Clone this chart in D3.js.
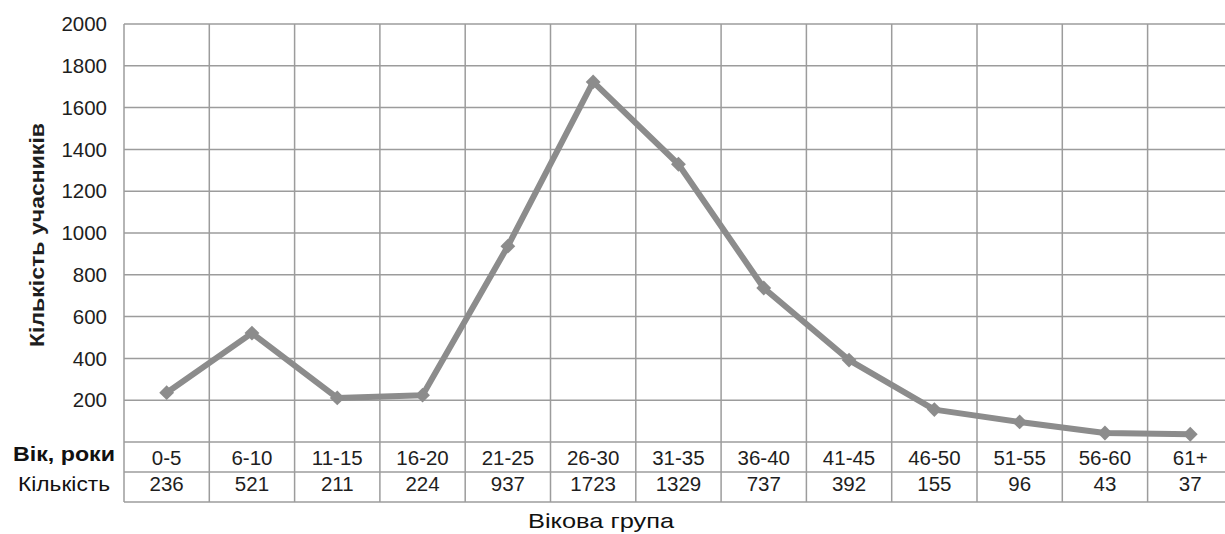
<!DOCTYPE html>
<html><head><meta charset="utf-8">
<script src="https://cdn.jsdelivr.net/npm/d3@7"></script>
<style>body{margin:0;background:#fff;}svg{display:block;font-family:"Liberation Sans",Arial,sans-serif;}</style>
</head><body>
<svg id="c" width="1225" height="534"></svg>
<script>
const categories = ["0-5","6-10","11-15","16-20","21-25","26-30","31-35","36-40","41-45","46-50","51-55","56-60","61+"];
const counts = [236,521,211,224,937,1723,1329,737,392,155,96,43,37];
const yTicks = [200,400,600,800,1000,1200,1400,1600,1800,2000];
const rowLabels = ["Вік, роки","Кількість"];

(function(){
const svg = d3.select("#c");
const pLeft = 124, colW = 85.3, pTop = 24, pBottom = 442;
const x = d3.scaleBand().domain(categories).range([pLeft, pLeft + colW*categories.length]);
const y = d3.scaleLinear().domain([0,2000]).range([pBottom, pTop]);
const rowH = 30;
const gridC = "#9c9c9c";
const txtC = "#1e1e1e";

svg.append("g").selectAll("line").data(yTicks).join("line")
  .attr("x1", pLeft).attr("x2", x.range()[1]).attr("y1", d=>y(d)).attr("y2", d=>y(d))
  .attr("stroke", gridC).attr("stroke-width", 1.5);
[0,1,2].forEach(i=>{
  svg.append("line").attr("x1", pLeft).attr("x2", x.range()[1])
    .attr("y1", pBottom + i*rowH).attr("y2", pBottom + i*rowH)
    .attr("stroke", gridC).attr("stroke-width", 1.5);
});
const vx = categories.map(c=>x(c)).concat([x.range()[1]]);
svg.append("g").selectAll("line").data(vx).join("line")
  .attr("x1", d=>d).attr("x2", d=>d).attr("y1", pTop).attr("y2", pBottom + 2*rowH)
  .attr("stroke", gridC).attr("stroke-width", 1.5);

svg.append("g").selectAll("text").data(yTicks).join("text")
  .attr("x", 107).attr("y", d=>y(d)).attr("dy","0.35em").attr("text-anchor","end")
  .attr("font-size", 20.5).attr("fill",txtC).text(d=>d);

svg.append("text").attr("transform","translate(44,235) rotate(-90)")
  .attr("text-anchor","middle").attr("font-size",21).attr("font-weight","bold").attr("fill",txtC)
  .attr("textLength",224).attr("lengthAdjust","spacingAndGlyphs")
  .text("Кількість учасників");

const line = d3.line().x((d,i)=>x(categories[i])+x.bandwidth()/2).y(d=>y(d));
svg.append("path").datum(counts).attr("d", line).attr("fill","none")
  .attr("stroke","#8c8c8c").attr("stroke-width",6).attr("stroke-linejoin","round");
svg.append("g").selectAll("path").data(counts).join("path")
  .attr("d", d3.symbol(d3.symbolDiamond2 || d3.symbolDiamond, 140))
  .attr("transform",(d,i)=>`translate(${x(categories[i])+x.bandwidth()/2},${y(d)})`)
  .attr("fill","#8c8c8c");

svg.append("g").selectAll("text").data(categories).join("text")
  .attr("x", d=>x(d)+x.bandwidth()/2).attr("y", 457.5).attr("dy","0.35em")
  .attr("text-anchor","middle").attr("font-size",20.5).attr("fill",txtC).text(d=>d);
svg.append("g").selectAll("text").data(counts).join("text")
  .attr("x", (d,i)=>x(categories[i])+x.bandwidth()/2).attr("y", 484).attr("dy","0.35em")
  .attr("text-anchor","middle").attr("font-size",20.5).attr("fill",txtC).text(d=>d);
svg.append("text").attr("x",13).attr("y", 454).attr("dy","0.35em")
  .attr("font-size",21).attr("font-weight","bold").attr("fill","#111")
  .attr("textLength",102).attr("lengthAdjust","spacingAndGlyphs").text(rowLabels[0]);
svg.append("text").attr("x",18).attr("y", 484).attr("dy","0.35em")
  .attr("font-size",21).attr("fill","#111")
  .attr("textLength",92).attr("lengthAdjust","spacingAndGlyphs").text(rowLabels[1]);

svg.append("text").attr("x",528).attr("y",520.5).attr("dy","0.35em")
  .attr("font-size",21).attr("fill","#111")
  .attr("textLength",146).attr("lengthAdjust","spacingAndGlyphs").text("Вікова група");
})();
</script>
</body></html>
